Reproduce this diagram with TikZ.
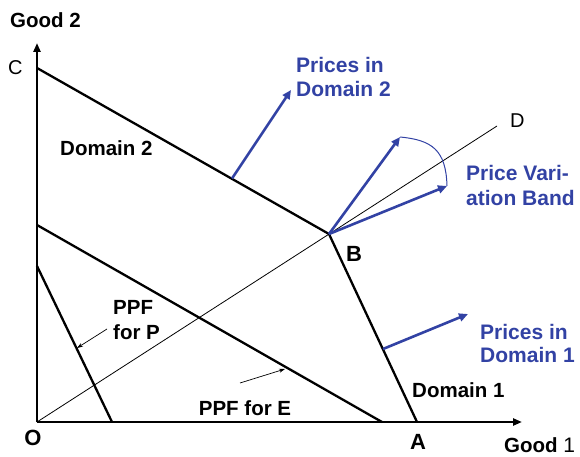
\documentclass[tikz,border=0pt]{standalone}
\usepackage{fontspec}
\setmainfont{Liberation Sans}
\usetikzlibrary{arrows.meta}
\definecolor{pblue}{RGB}{50,66,164}
\tikzset{
  lbl/.style={font=\fontsize{20.5}{24}\selectfont\bfseries, inner sep=0pt, anchor=base west},
  pointlbl/.style={font=\fontsize{22}{24}\selectfont\bfseries, inner sep=0pt, anchor=base},
  plain/.style={font=\fontsize{20}{24}\selectfont, inner sep=0pt, anchor=base west},
  bluelbl/.style={font=\fontsize{21}{24}\selectfont\bfseries, inner sep=0pt, anchor=base west, text=pblue},
  thick line/.style={line width=2.3pt, black},
  thin line/.style={line width=0.8pt, black},
  axis/.style={line width=2.3pt, -{Triangle[length=9pt,width=7pt]}},
  price/.style={line width=2.6pt, pblue, -{Triangle[length=9pt,width=8pt]}},
  pointer/.style={line width=0.7pt, -{Stealth[length=6pt,width=4pt]}}
}
\begin{document}
\begin{tikzpicture}[x=1pt,y=-1pt]
\useasboundingbox (0,0) rectangle (580,457);
% key points
\coordinate (O) at (37,422);
\coordinate (Ytop) at (37,43);
\coordinate (Xend) at (522,422);
\coordinate (C) at (37,68);
\coordinate (B) at (329,234);
\coordinate (A) at (417,422);
\coordinate (D) at (497,126);
\coordinate (E0) at (37,225);
\coordinate (E1) at (382,422);
\coordinate (P0) at (37,266);
\coordinate (P1) at (112,422);
\coordinate (M2) at (232,178.5);
\coordinate (T2) at (291,90);
\coordinate (M1) at (383,349);
\coordinate (T1) at (468,314);
\coordinate (U) at (400,137);
\coordinate (L) at (447,186);
\coordinate (pP0) at (107,329);
\coordinate (pP1) at (77,348);
\coordinate (pE0) at (240,383);
\coordinate (pE1) at (285,369);

% ray through B
\draw[thin line] (O) -- (D);
% production possibility frontiers
\draw[thick line] (E0) -- (E1);
\draw[thick line] (P0) -- (P1);
% world frontier C-B-A
\draw[thick line, line join=miter] (C) -- (B) -- (A);
% axes
\draw[axis] (O) -- (Ytop);
\draw[axis] (O) -- (Xend);

% price vectors
\draw[price] (M2) -- (T2);
\draw[price] (M1) -- (T1);
\draw[price] (B) -- (U);
\draw[price] (B) -- (L);
\draw[line width=1pt, pblue] (U) .. controls (432,140) and (446,150) .. (L);

% pointers to PPF labels
\draw[pointer] (pP0) -- (pP1);
\draw[pointer] (pE0) -- (pE1);

% labels
\node[lbl] (g2) at (10,27.4) {Good 2};
\node[plain] (lc) at (8,75) {C};
\node[plain] (ld) at (510,128) {D};
\node[lbl] (d2) at (60,155.4) {Domain 2};
\node[bluelbl] (pd2a) at (296,72.5) {Prices in};
\node[bluelbl] (pd2b) at (296,97) {Domain 2};
\node[bluelbl] (pvba) at (466,180.5) {Price Vari-};
\node[bluelbl] (pvbb) at (466,205.5) {ation Band};
\node[pointlbl] (lb) at (354,261) {B};
\node[lbl] (ppfa) at (113,314) {PPF};
\node[lbl] (ppfb) at (113,339) {for P};
\node[lbl, anchor=base] (ppfe) at (245,415.4) {PPF for E};
\node[lbl] (d1) at (412,397.4) {Domain 1};
\node[bluelbl] (pd1a) at (480,339.4) {Prices in};
\node[bluelbl] (pd1b) at (480,362.5) {Domain 1};
\node[pointlbl] (lo) at (33,445) {O};
\node[pointlbl] (la) at (418,449) {A};
\node[lbl] (g1) at (504,452.5) {Good {\mdseries\fontsize{21}{24}\selectfont 1}};
\end{tikzpicture}
\end{document}
